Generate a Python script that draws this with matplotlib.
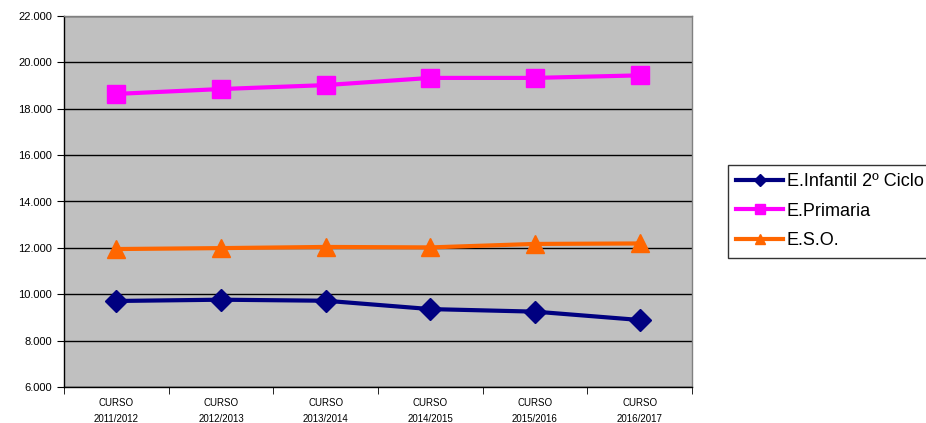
import matplotlib
matplotlib.use('Agg')
from matplotlib import pyplot as plt
import matplotlib.ticker as ticker

# data
cursos = ['CURSO\n2011/2012', 'CURSO\n2012/2013', 'CURSO\n2013/2014',
          'CURSO\n2014/2015', 'CURSO\n2015/2016', 'CURSO\n2016/2017']
infantil = [9710, 9765, 9720, 9360, 9250, 8890]
primaria = [18640, 18850, 19020, 19330, 19330, 19440]
eso = [11950, 11990, 12040, 12020, 12170, 12190]

plt.rcParams['font.family'] = ['Liberation Sans', 'DejaVu Sans']

fig = plt.figure(figsize=(9.26, 4.23), dpi=100)
ax = fig.add_axes([64 / 926, 36 / 423, 628 / 926, 371 / 423])
ax.set_facecolor('#C0C0C0')

x = list(range(len(cursos)))
ax.plot(x, infantil, color='#000080', lw=3, marker='D', ms=11,
        label='E.Infantil 2º Ciclo')
ax.plot(x, primaria, color='#FF00FF', lw=3, marker='s', ms=13,
        label='E.Primaria')
ax.plot(x, eso, color='#FF6600', lw=3, marker='^', ms=13,
        label='E.S.O.')

ax.set_xlim(-0.5, len(cursos) - 0.5)
ax.set_ylim(6000, 22000)

# y axis with dot as thousands separator
ax.yaxis.set_major_locator(ticker.MultipleLocator(2000))
ax.yaxis.set_major_formatter(
    ticker.FuncFormatter(lambda v, p: '{:,.0f}'.format(v).replace(',', '.')))
ax.grid(axis='y', color='black', lw=1)
ax.set_axisbelow(True)

# category labels, tick marks between categories
ax.set_xticks(x)
ax.set_xticklabels(cursos, linespacing=1.7)
ax.set_xticks([i - 0.5 for i in range(len(cursos) + 1)], minor=True)
ax.tick_params(axis='x', which='major', length=0, pad=8, labelsize=7)
ax.tick_params(axis='x', which='minor', length=5, direction='out')
ax.tick_params(axis='y', length=5, direction='out', labelsize=8)

for s in ax.spines.values():
    s.set_color('#808080')
    s.set_linewidth(1)
ax.spines['left'].set_color('black')
ax.spines['bottom'].set_color('black')

leg = fig.legend(loc='upper left', bbox_to_anchor=(728 / 926, 258 / 423),
                 fontsize=13, frameon=True, fancybox=False,
                 edgecolor='black', handlelength=2.6, markerscale=0.6,
                 borderpad=0.45, labelspacing=0.7, handletextpad=0.2,
                 borderaxespad=0)
leg.get_frame().set_linewidth(1)

plt.savefig('out.png', dpi=100)
